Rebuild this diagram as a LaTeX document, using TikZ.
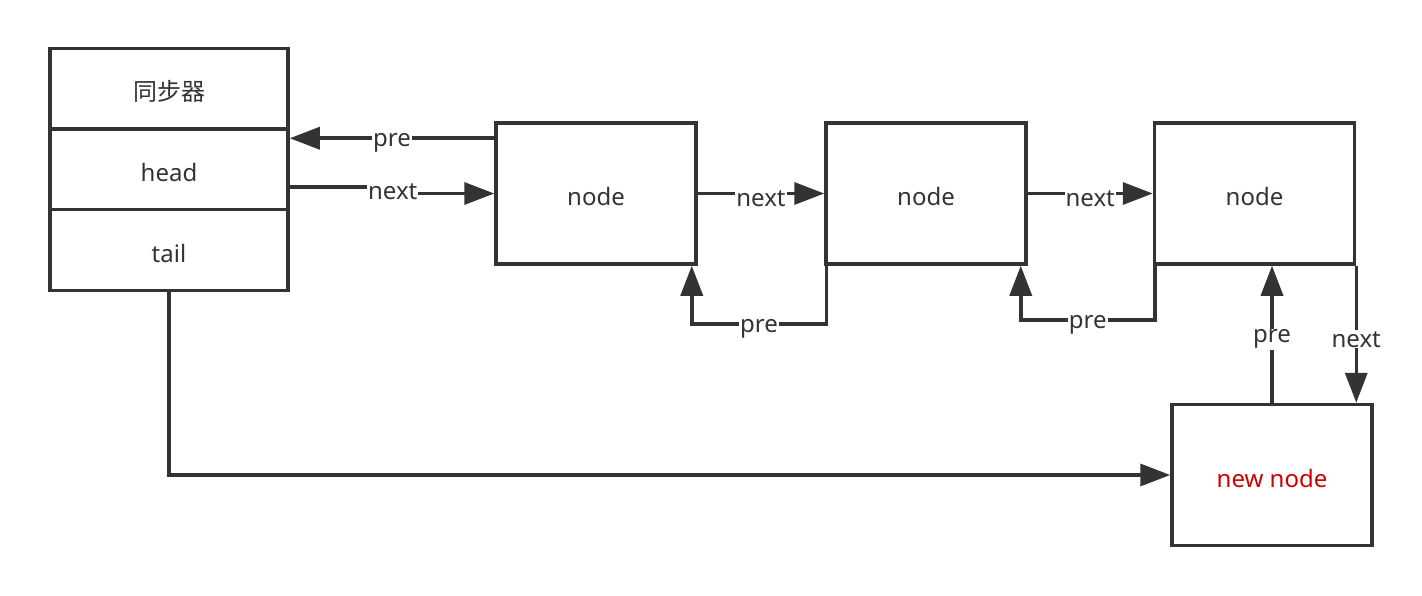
\documentclass[tikz,border=0pt]{standalone}
\usepackage{fontspec}
\setmainfont{Noto Sans}
\newfontfamily\cjk{Noto Sans CJK SC}
\usetikzlibrary{arrows.meta}
\definecolor{ink}{HTML}{333333}
\definecolor{newred}{HTML}{CC0000}
\tikzset{
  box/.style={draw=ink, line width=3.5pt, minimum width=200pt, minimum height=141pt, inner sep=0pt, text=ink, text height=24pt, text depth=0pt},
  part/.style={draw=ink, line width=3.5pt, minimum width=238pt, minimum height=80.5pt, inner sep=0pt, text=ink, text height=24pt, text depth=0pt},
  arr/.style={draw=ink, line width=3.5pt, -{Triangle[length=30pt,width=22pt]}},
  lbl/.style={fill=white, inner sep=1pt, text=ink, yshift=-5pt}
}
\begin{document}
\begin{tikzpicture}[x=1pt,y=1pt,yscale=-1,font=\fontsize{24}{28}\selectfont]
\useasboundingbox (0,0) rectangle (1422,596);

% synchronizer
\node [part] (sync) at (169,89) {\cjk 同步器};
\node [part] (head) at (169,169.5) {head};
\node [part] (tail) at (169,250) {tail};

% list nodes
\node [box] (node1) at (596,193.5) {node};
\node [box] (node2) at (926,193.5) {node};
\node [box] (node3) at (1254.5,193.5) {node};
\node [box, text=newred] (newnode) at (1272,475) {new node};

% head links
\coordinate (prehead) at ([yshift=17pt]node1.north west);
\draw [arr] (prehead) -- node [lbl] {pre} (prehead -| head.east);
\draw [arr] ([yshift=17.5pt]head.east) -- ++(103,0) node [lbl] {next} |- (node1.west);

% next links
\draw [arr] (node1.east) -- node [lbl] {next} (node2.west);
\draw [arr] (node2.east) -- node [lbl] {next} (node3.west);

% pre links
\draw [arr] ([xshift=2pt]node2.south west) -- ++(0,58) -| node [lbl, pos=0.25] {pre} ([xshift=-6pt]node1.south east);
\draw [arr] ([xshift=2pt]node3.south west) -- ++(0,54) -| node [lbl, pos=0.25] {pre} ([xshift=-7pt]node2.south east);

% new node links
\draw [arr] (newnode.north) -- node [lbl] {pre} (newnode.north |- node3.south);
\draw [arr] (node3.south east) -- node [lbl] {next} (node3.south east |- newnode.north);
\draw [arr] (tail.south) |- (newnode.west);

\end{tikzpicture}
\end{document}
